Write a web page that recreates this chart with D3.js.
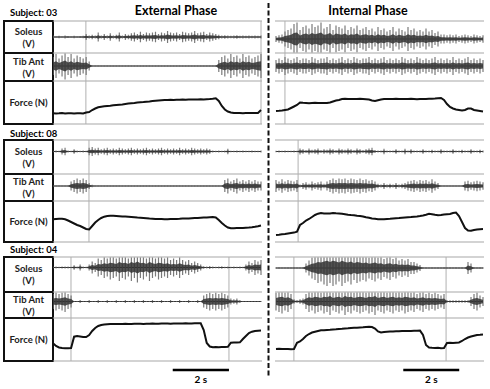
<!DOCTYPE html>
<html>
<head>
<meta charset="utf-8">
<script src="https://cdn.jsdelivr.net/npm/d3@7"></script>
<style>
  body { margin: 0; background: #fff; }
  text { font-family: Lato, "Open Sans", sans-serif; }
</style>
</head>
<body>
<div id="chart-area"></div>
<script>
/*
*    EMG / force traces, external vs internal phase
*/

// ---- labels ----
var phases = ["External Phase", "Internal Phase"];
var subjects = ["Subject: 03", "Subject: 08", "Subject: 04"];
var rowLabels = [["Soleus", "(V)"], ["Tib Ant", "(V)"], ["Force (N)"]];
var barLabel = "2 s";
var duration = 7.4;   // seconds shown per panel
var barSeconds = 2;

// ---- EMG envelopes (arbitrary units, 70 samples over the panel) ----
var s03ExtSoleus = [1,.6,.8,.6,1,.7,.6,.8,.6,.7, .8,2,1,1.5,1,3,1,2,1,2.5, 1,1.5,3,1,2,1.5,2.5,3,2,3.5,
  2,3,2.5,3,3.5,2,3,2.5,4,3, 2.5,3,2,3.5,3,2.5,3,4,2.5,3, 3.5,2,3,2.5,2,1.5,1,1.2,1,.8, 1,1.2,.8,1,.8,1,.8,1,.8,1];
var s03ExtTib = [6,8,5,7,9,6,8,5,7,6, 5,6,3,.4,.3,.3,.4,.3,.3,.3, .3,.3,.3,.3,.3,.3,.3,.3,.3,.3,
  .3,.3,.3,.3,.3,.3,.3,.3,.3,.3, .3,.3,.3,.3,.3,.3,.3,.3,.3,.3, .3,.3,.3,.4,.5,4,6,7,5,8, 6,7,5,8,6,7,5,6,7,8];
var s03IntSoleus = [2,2.5,3,5,6,7,10,11,6,8, 9,7,10,8,9,11,7,8,10,6, 9,8,7,9,6,8,7,9,6,7,
  8,6,7,5,8,6,7,5,6,8, 5,7,6,5,8,6,7,5,6,5, 7,5,6,4,5,3,3,2.5,3,2.5, 3,2,2.5,3,2.5,2,3,2.5,2,2.5];
var s03IntTib = [4,5,4,6,5,4,5,6,4,5, 5,4,6,5,4,5,5,6,4,5, 4,5,6,4,5,4,6,5,4,5,
  5,6,4,5,4,5,6,4,5,4, 5,4,6,5,4,5,4,6,5,4, 5,4,5,6,4,5,4,5,4,6, 4,5,4,5,6,4,5,4,5,4];

var s08ExtSoleus = [.5,.6,.5,2,2.5,.6,.5,1.5,.6,.5, .6,.5,2.5,3,2,2.5,1.5,2,2.5,1.5, 2,1.5,2.5,2,1.5,2,2.5,1.5,2,1.5,
  2,2.5,1.5,2,1.5,2,2.5,1.5,2,1.5, 2,1.5,2.5,1.5,2,1.5,2.5,2,1.5,2, 1.5,2,1.5,.6,.5,.6,.5,.6,1.8,.5, .5,.6,.5,.6,.5,.5,.6,.5,.5,.6];
var s08ExtTib = [.3,.3,.3,.3,.3,.3,3,4,5,4, 5,4,2,.8,.3,.3,.3,.3,.3,.3, .3,.3,.3,.3,.3,.3,.3,.3,.3,.3,
  .3,.3,.3,.3,.3,.3,.3,.3,.3,.3, .3,.3,.3,.3,.3,.3,.3,.3,.3,.3, .3,.3,.3,.3,.3,.3,.3,4,5,3, 4,5,3,4,3,4,3,4,3,3];
var s08IntSoleus = [.5,.6,.5,.6,.5,.5,.6,.5,2,1.5, 1,2,1.2,1.5,2,1,1.5,1.2,2,1.5, 1,2,1.5,1.2,2,1.5,1,2,1.5,1,
  1.5,2,2.5,1,.6,.6,1.8,.6,.6,.6, 1.5,.6,.6,1.8,.6,1.5,.6,.6,.6,1.5, .6,.6,1.2,.6,.6,1.5,.6,.6,.6,1.5, .6,.6,1.2,.6,.6,1.5,.6,.6,1.2,.6];
var s08IntTib = [4,3,4.5,3,4,3.5,3,4,1,2, 2.5,1.5,3,2,2.5,3,1.5,3,4,5, 4,5,4.5,5,4,5,4.5,4,5,4,
  4.5,3.5,4,3,1.5,1,2,1,1.5,1, 2,1,1.5,2,3,3.5,4,3,4,3.5, 4,3,4.5,3,2,.3,.3,.3,.3,.3, .3,.3,.3,3,3.5,2.5,3,3.5,3,2.5];

var s04ExtSoleus = [.5,.6,.5,.7,.6,.6,.5,1.5,.6,2, .6,.5,2,4,3,6,5,7,6,8, 7,6,9,7,8,6,9,7,10,7,
  8,6,9,7,6,8,7,6,7,5, 6,5,7,5,4,5,3,4,3,2, .8,.6,1,.6,.5,.6,.8,.5,.6,.5, .6,.5,.6,.5,2,4,3,5,4,5];
var s04ExtTib = [5,6,5,6,7,5,4,.4,.4,1, .4,.4,1,.4,.4,1,.4,.4,1,.4, .4,1,.4,.4,1,.4,.4,1,.4,.4,
  1,.4,.4,1,.4,.4,1,.4,.4,1, .4,.4,1,.4,.4,1,.4,.4,1,.4, 4,5,6,5,6,5,6,5,4,2, 1.5,2,1,.4,.4,.4,.4,.4,.4,.4];
var s04IntSoleus = [.5,.6,.5,.5,.6,.5,.6,.5,.5,.6, 3,5,7,8,10,9,11,12,10,12, 11,9,12,10,9,11,8,10,9,8,
  9,7,8,9,7,8,6,7,8,6, 7,5,6,5,6,4,4,3,2,.6, .6,.5,.6,.5,.6,.5,.6,.5,.6,.5, .6,.5,.6,.5,4,3,.6,.5,.6,.5];
var s04IntTib = [6,7,8,6,7,5,1.5,1,1.5,2, 5,7,6,8,7,6,8,7,9,6, 7,8,6,9,7,8,6,7,8,7,
  6,8,7,9,6,7,8,6,7,8, 6,7,6,8,7,6,7,5,6,7, 5,6,5,6,5,4,5,.8,.8,.8, .8,.8,.8,.8,.8,3,5,6,4,3];

// ---- force (N, 70 samples over the panel) ----
var f03Ext = [10.8,10.6,10.7,10.9,10.6,10.8,10.7,10.5,10.8,10.7, 10.6,11.5,12,14,15.5,16.7,17.3,17.7,18,18.3,
  18.7,19,19.3,19.6,20,20.4,20.8,21,21.4,21.8, 22,22.3,22.6,23,23.3,23.6,23.8,24,24,24.2,
  24.1,24.3,24.2,24.4,24.3,24.5,24.4,24.6,24.5,24.7, 24.6,24.8,25,25.3,25.8,23,18,14.5,12.5,11.5,
  11,10.9,11,10.8,10.9,11,10.9,11,11.1,14];
var f03Int = [13,13.2,13.5,14,14.5,16,17.5,19,21.5,21.2, 21,20.8,21,21.2,21,20.9,21.1,21,21.5,22.5,
  23.5,24,25,25.2,25,25.1,24.9,25,25.2,25, 24.8,24.5,23.5,23,23.8,24.5,25,25.1,24.9,25,
  25.2,25,24.9,25.1,25,25.2,25,24.8,25,25.1, 25,25.2,25.3,25.5,25.8,26,24,20,17,15.5,
  14.5,14,13.5,14,15.5,15.5,14,13.5,13,12.5];
var f08Ext = [22.7,23,23.3,23.2,22.7,21.5,20,18.5,17,16, 14.5,13,12.5,16,19.5,22,24,25.3,26,26.3,
  26.2,26,25.8,25.6,25.4,25.2,25,24.7,24.4,24.2, 24,23.8,23.5,23.3,23.1,23,22.9,22.8,22.8,22.9,
  23,23.1,23.2,23.4,23.5,23.6,23.8,24,24.1,24.3, 24.5,24.6,24.8,25,24.6,22,19,16.5,14.5,13.8,
  13.8,13.9,14,14.1,14.3,14.5,14.8,15.2,15.8,16.5];
var f08Int = [7,7.3,7.7,8.1,8.6,9,9.4,10.3,17,19, 21.5,23,25,27,28.3,29,28.6,28.5,28.6,29,
  28.7,28.6,28.2,27.8,27.3,27,26.8,26.3,26,25.5, 24.8,24.2,23.6,23.2,22.8,22.7,22.8,23,23.2,23.5,
  23.8,24,24.3,24.6,24.8,25,25.3,25.6,26,26.6, 27.3,28.2,27.8,27.2,26.8,27,27.5,27.8,28,29,
  29.5,26,20,14,11.5,11.3,12,12.5,12.8,13];
var f04Ext = [17.7,15,13.5,13,12.7,12.7,13,24.3,25,24.5, 24,24,26,30,33,35,36,36.5,36.8,37,
  37,36.9,37.1,37,37.2,37.1,37,37.2,37.3,37.2, 37.1,37.3,37.2,37.4,37.3,37.2,37.4,37.5,37.4,37.3,
  37.5,37.4,37.6,37.5,37.7,37.6,37.5,37.7,37.8,37.7, 31,18,14.5,13.7,14,13.8,14.1,13.9,14.2,18.3,
  18.5,18.4,18.6,22,25,28,29.3,30,30.3,30.5];
var f04Int = [12,12.2,11.9,12.1,12,11.8,12,18.3,19.5,22, 25,27,28.5,29.3,30,30.7,30.8,31,31.2,31.5,
  31.7,32,32.2,32.5,32.7,33,33.2,33.3,33.5,33.7, 34,34.2,34,32.5,29.5,28.5,29,29.3,29.5,29.6,
  29.8,29.7,29.9,30,30.1,30,30.2,30.3,30.4,26, 16,13.5,13.2,13,13.3,12.8,13,18,18.2,18,
  18.3,18.5,20,22,23.5,24.5,25.3,26,26.2,26.5];

// ---- event markers (s) and scale bars (start, s) ----
var markers03 = [[1.17, 7.4], [0.32]];
var markers08 = [[1.28], [0.79]];
var markers04 = [[0.64, 6.26], [0.64, 6.08]];
var scaleBarStart = [4.26, 4.55];

// ---- layout ----
var width = 490, height = 389;
var panelRange = [[53, 261], [276, 483]];
var labelBox = { x0: 4, x1: 53 };

var blocks = [
  { title: subjects[0], labelY: 16, rows: [21, 53, 81, 124], solBase: [16, 18], tibBase: [13, 13],
    soleus: [s03ExtSoleus, s03IntSoleus], tib: [s03ExtTib, s03IntTib], force: [f03Ext, f03Int], markers: markers03 },
  { title: subjects[1], labelY: 137, rows: [140, 174, 201, 242], solBase: [11.5, 11.5], tibBase: [12, 12],
    soleus: [s08ExtSoleus, s08IntSoleus], tib: [s08ExtTib, s08IntTib], force: [f08Ext, f08Int], markers: markers08 },
  { title: subjects[2], labelY: 253, rows: [257, 292, 318, 361], solBase: [10.5, 11], tibBase: [9.5, 9.5],
    soleus: [s04ExtSoleus, s04IntSoleus], tib: [s04ExtTib, s04IntTib], force: [f04Ext, f04Int], markers: markers04 }
];

var svg = d3.select("#chart-area")
    .append("svg")
    .attr("width", width)
    .attr("height", height);
var defs = svg.append("defs");

// Phase titles
phases.forEach(function(p, k) {
    svg.append("text")
        .attr("x", k == 0 ? 176 : 368)
        .attr("y", 15)
        .attr("text-anchor", "middle")
        .attr("font-size", "12.5px")
        .attr("font-weight", 700)
        .text(p);
});

// Divider
svg.append("line")
    .attr("x1", 268.5).attr("x2", 268.5)
    .attr("y1", 3).attr("y2", 378)
    .attr("stroke", "#111")
    .attr("stroke-width", 2)
    .attr("stroke-dasharray", "5,2.5");

var clipId = 0;

function drawEmg(g, x, vals, base, rowTop, rowBottom, x0, x1) {
    var y = d3.scaleLinear().domain([-10, 10]).range([base + 15, base - 15]);
    var t = function(i) { return i * duration / (vals.length - 1); };
    var id = "clip" + (clipId++);
    defs.append("clipPath").attr("id", id)
        .append("rect")
        .attr("x", x0).attr("y", rowTop + 0.5)
        .attr("width", x1 - x0).attr("height", rowBottom - rowTop - 1);
    var eg = g.append("g").attr("clip-path", "url(#" + id + ")");
    // baseline
    eg.append("line")
        .attr("x1", x(0)).attr("x2", x(duration))
        .attr("y1", y(0)).attr("y2", y(0))
        .attr("stroke", "#333").attr("stroke-width", 1.2);
    // spikes
    eg.selectAll(".spike").data(vals).join("line")
        .attr("class", "spike")
        .attr("x1", function(d, i) { return x(t(i)); })
        .attr("x2", function(d, i) { return x(t(i)); })
        .attr("y1", function(d) { return y(-d); })
        .attr("y2", function(d) { return y(d); })
        .attr("stroke", "#7a7a7a")
        .attr("stroke-width", 1.2);
    // dense core
    var core = d3.area()
        .x(function(d, i) { return x(t(i)); })
        .y0(function(d) { return y(-d * 0.4); })
        .y1(function(d) { return y(d * 0.4); });
    eg.append("path")
        .attr("d", core(vals))
        .attr("fill", "#333")
        .attr("fill-opacity", 0.85);
}

blocks.forEach(function(b) {
    var top = b.rows[0], bottom = b.rows[3];

    // subject label
    svg.append("text")
        .attr("x", 10).attr("y", b.labelY)
        .attr("font-size", "9.5px")
        .attr("font-weight", 700)
        .text(b.title);

    // label boxes
    for (var r = 0; r < 3; r++) {
        var ry0 = b.rows[r], ry1 = b.rows[r + 1];
        svg.append("rect")
            .attr("x", labelBox.x0).attr("y", ry0)
            .attr("width", labelBox.x1 - labelBox.x0)
            .attr("height", ry1 - ry0)
            .attr("fill", "none")
            .attr("stroke", "#111")
            .attr("stroke-width", 2);
        var lines = rowLabels[r];
        var cy = (ry0 + ry1) / 2;
        lines.forEach(function(s, j) {
            svg.append("text")
                .attr("x", (labelBox.x0 + labelBox.x1) / 2)
                .attr("y", cy + (j - (lines.length - 1) / 2) * 12 + 3.5)
                .attr("text-anchor", "middle")
                .attr("font-size", "9.5px")
                .attr("font-weight", 700)
                .attr("fill", "#222")
                .text(s);
        });
    }

    panelRange.forEach(function(pr, k) {
        var x = d3.scaleLinear().domain([0, duration]).range(pr);
        var g = svg.append("g");
        var gx0 = k == 0 ? labelBox.x1 : pr[0] - 1;

        // grid lines
        g.selectAll(".hline").data(b.rows).join("line")
            .attr("class", "hline")
            .attr("x1", gx0).attr("x2", pr[1] + 1)
            .attr("y1", function(d) { return d; })
            .attr("y2", function(d) { return d; })
            .attr("stroke", "#a8a8a8")
            .attr("stroke-width", 1.2);

        // event markers
        g.selectAll(".marker").data(b.markers[k]).join("line")
            .attr("class", "marker")
            .attr("x1", function(d) { return x(d); })
            .attr("x2", function(d) { return x(d); })
            .attr("y1", top).attr("y2", bottom)
            .attr("stroke", "#b0b0b0")
            .attr("stroke-width", 1);

        drawEmg(g, x, b.soleus[k], b.rows[0] + b.solBase[k], b.rows[0], b.rows[1], gx0, pr[1] + 1);
        drawEmg(g, x, b.tib[k], b.rows[1] + b.tibBase[k], b.rows[1], b.rows[2], gx0, pr[1] + 1);

        // force
        var fy = d3.scaleLinear().domain([0, b.rows[3] - b.rows[2]]).range([b.rows[3], b.rows[2]]);
        var fvals = b.force[k];
        var line = d3.line()
            .x(function(d, i) { return x(i * duration / (fvals.length - 1)); })
            .y(function(d) { return fy(d); });
        g.append("path")
            .attr("d", line(fvals))
            .attr("fill", "none")
            .attr("stroke", "#111")
            .attr("stroke-width", 2);
    });
});

// scale bars
panelRange.forEach(function(pr, k) {
    var x = d3.scaleLinear().domain([0, duration]).range(pr);
    var s0 = scaleBarStart[k];
    svg.append("line")
        .attr("x1", x(s0)).attr("x2", x(s0 + barSeconds))
        .attr("y1", 370).attr("y2", 370)
        .attr("stroke", "#000")
        .attr("stroke-width", 2.5);
    svg.append("text")
        .attr("x", x(s0 + barSeconds / 2))
        .attr("y", 383)
        .attr("text-anchor", "middle")
        .attr("font-size", "10px")
        .attr("font-weight", 700)
        .text(barLabel);
});
</script>
</body>
</html>
